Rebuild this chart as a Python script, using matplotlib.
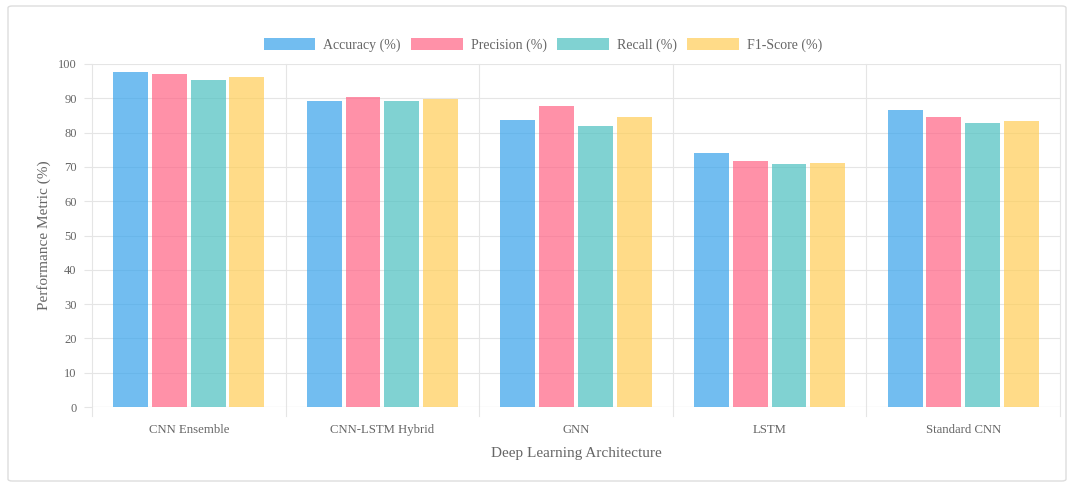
import matplotlib
matplotlib.use("Agg")
import matplotlib.pyplot as plt
from matplotlib.patches import FancyBboxPatch
import numpy as np

categories = ["CNN Ensemble", "CNN-LSTM Hybrid", "GNN", "LSTM", "Standard CNN"]
series_names = ["Accuracy (%)", "Precision (%)", "Recall (%)", "F1-Score (%)"]
accuracy = [97.7, 89.2, 83.7, 74.0, 86.6]
precision = [97.1, 90.3, 87.8, 71.7, 84.6]
recall = [95.4, 89.2, 81.9, 70.8, 82.9]
f1_score = [96.3, 89.8, 84.6, 71.2, 83.4]
yticks = [0, 10, 20, 30, 40, 50, 60, 70, 80, 90, 100]

values = [accuracy, precision, recall, f1_score]
colors = ["#36a2eb", "#ff6384", "#4bc0c0", "#ffcd56"]

plt.rcParams['font.family'] = ['Liberation Serif', 'DejaVu Serif']

W, H = 1070, 487
fig = plt.figure(figsize=(W / 100, H / 100), dpi=100)
ax = fig.add_axes([92 / W, 1 - 407 / H, (1060 - 92) / W, (407 - 64) / H])

# figure border
border = FancyBboxPatch((8 / W, 6 / H), (1066 - 8) / W, (481 - 6) / H,
                        boxstyle="round,pad=0,rounding_size=0.004",
                        transform=fig.transFigure, fill=False,
                        edgecolor="#dddddd", linewidth=1.0)
fig.patches.append(border)

n_cat = len(categories)
n_ser = len(values)
x = np.arange(n_cat)
slot = 0.8 / n_ser
bw = slot * 0.9
for i, (name, vals, c) in enumerate(zip(series_names, values, colors)):
    offs = -0.4 + slot * (i + 0.5)
    ax.bar(x + offs, vals, width=bw, color=c, alpha=0.7, label=name,
           linewidth=0.0, zorder=3)

ax.set_xlim(-0.5, n_cat - 0.5)
ax.set_ylim(0, 100)
ax.set_yticks(yticks)
ax.set_yticklabels([str(t) for t in yticks], fontsize=9, color="#666666")
ax.set_xticks(x)
ax.set_xticklabels(categories, fontsize=9.2, color="#666666")
ax.tick_params(axis='x', length=0, pad=12)
ax.tick_params(axis='y', length=6, color="#e5e5e5", pad=5)

for b in np.arange(-0.5, n_cat, 1.0):
    ax.axvline(b, color="#e5e5e5", linewidth=0.8, zorder=0, clip_on=False,
               ymin=-0.025, ymax=1)
ax.yaxis.grid(True, color="#e5e5e5", linewidth=0.8, zorder=0)
for s in ax.spines.values():
    s.set_visible(False)
ax.axhline(0, color="#e0e0e0", linewidth=0.8, zorder=1)

ax.set_xlabel("Deep Learning Architecture", fontsize=11, color="#666666", labelpad=8)
ax.set_ylabel("Performance Metric (%)", fontsize=11, color="#666666", labelpad=5)

leg = fig.legend(loc="center", bbox_to_anchor=(543 / W, 1 - 45 / H), ncol=4,
                 frameon=False, fontsize=10, handlelength=3.7, handleheight=1.0,
                 columnspacing=0.75, handletextpad=0.6, labelcolor="#666666")

fig.savefig("out.png", dpi=100)
